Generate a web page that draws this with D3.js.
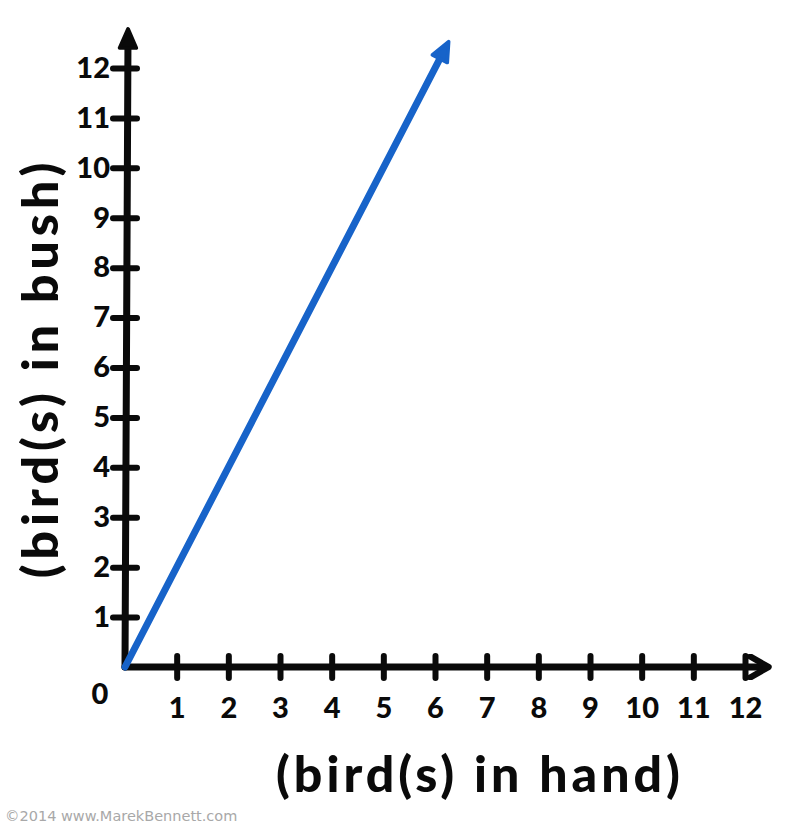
<!DOCTYPE html>
<html>
<head>
<meta charset="utf-8">
<script src="https://cdn.jsdelivr.net/npm/d3@7"></script>
<style>
  body { margin: 0; background: #fff; }
  text { font-family: "Lato", "Noto Sans", sans-serif; font-weight: 900; }
</style>
</head>
<body>
<script>
// chart values
var xTicks = [1, 2, 3, 4, 5, 6, 7, 8, 9, 10, 11, 12];
var yTicks = [1, 2, 3, 4, 5, 6, 7, 8, 9, 10, 11, 12];
var handBirds = [0, 6.2];
var bushBirds = [0, 12.4];
var xTitle = "(bird(s) in hand)";
var yTitle = "(bird(s) in bush)";
var credit = "\u00a92014 www.MarekBennett.com";

var width = 800, height = 827;

var svg = d3.select("body").append("svg")
    .attr("width", width)
    .attr("height", height);

// scales: origin at about (125, 667)
var x = d3.scaleLinear().domain([0, 12]).range([125, 745]);
var y = d3.scaleLinear().domain([0, 12]).range([667, 68]);

var ink = "#0a0a0a";
var blue = "#1763c9";

// arrow markers
var defs = svg.append("defs");
defs.append("marker")
    .attr("id", "openArrow")
    .attr("viewBox", "0 0 10 10")
    .attr("refX", 7).attr("refY", 5)
    .attr("markerUnits", "userSpaceOnUse")
    .attr("markerWidth", 26).attr("markerHeight", 26)
    .attr("orient", "auto")
  .append("path")
    .attr("d", "M1,1 L8,5 L1,9")
    .attr("fill", "none")
    .attr("stroke", ink)
    .attr("stroke-width", 2.4)
    .attr("stroke-linecap", "round")
    .attr("stroke-linejoin", "round");

function solidArrow(id, colour) {
  defs.append("marker")
      .attr("id", id)
      .attr("viewBox", "0 0 10 10")
      .attr("refX", 6).attr("refY", 5)
      .attr("markerUnits", "userSpaceOnUse")
      .attr("markerWidth", 24).attr("markerHeight", 24)
      .attr("orient", "auto")
    .append("path")
      .attr("d", "M1,1.5 L9,5 L1,8.5 Z")
      .attr("fill", colour)
      .attr("stroke", colour)
      .attr("stroke-width", 1.5)
      .attr("stroke-linejoin", "round");
}
solidArrow("blueArrow", blue);
solidArrow("blackArrow", ink);

// x axis
var gx = svg.append("g")
    .attr("transform", "translate(0," + y(0) + ")")
    .call(d3.axisBottom(x).tickValues(xTicks).tickSize(11).tickFormat(d3.format("d")));
gx.select(".domain").remove();
gx.selectAll(".tick line")
    .attr("y1", -11).attr("y2", 11)
    .attr("stroke", ink).attr("stroke-width", 6).attr("stroke-linecap", "round");
gx.selectAll(".tick text")
    .attr("y", 30).attr("dy", "0.71em")
    .attr("fill", ink)
    .style("font-size", "29px");

// y axis
var gy = svg.append("g")
    .attr("transform", "translate(" + x(0) + ",0)")
    .call(d3.axisLeft(y).tickValues(yTicks).tickSize(12).tickFormat(d3.format("d")));
gy.select(".domain").remove();
gy.selectAll(".tick line")
    .attr("x1", -12).attr("x2", 12)
    .attr("stroke", ink).attr("stroke-width", 6).attr("stroke-linecap", "round");
gy.selectAll(".tick text")
    .attr("x", -15)
    .attr("fill", ink)
    .style("font-size", "29px");

// axis lines with arrows
svg.append("line")
    .attr("x1", x(0)).attr("y1", y(0))
    .attr("x2", 766).attr("y2", y(0))
    .attr("stroke", ink).attr("stroke-width", 7).attr("stroke-linecap", "round")
    .attr("marker-end", "url(#openArrow)");

svg.append("line")
    .attr("x1", x(0)).attr("y1", y(0))
    .attr("x2", x(0) + 3).attr("y2", 36)
    .attr("stroke", ink).attr("stroke-width", 7).attr("stroke-linecap", "round")
    .attr("marker-end", "url(#blackArrow)");

// origin label
svg.append("text")
    .attr("x", 100).attr("y", 683)
    .attr("dy", "0.71em")
    .attr("text-anchor", "middle")
    .attr("fill", ink)
    .style("font-size", "29px")
    .text("0");

// the blue line
var pts = handBirds.map(function(d, i) { return [d, bushBirds[i]]; });
var line = d3.line()
    .x(function(d) { return x(d[0]); })
    .y(function(d) { return y(d[1]); });

svg.append("path")
    .datum(pts)
    .attr("fill", "none")
    .attr("stroke", blue)
    .attr("stroke-width", 7)
    .attr("stroke-linecap", "round")
    .attr("d", line)
    .attr("marker-end", "url(#blueArrow)");

// axis titles
svg.append("text")
    .attr("x", 480).attr("y", 792)
    .attr("text-anchor", "middle")
    .attr("fill", ink)
    .style("font-size", "50px")
    .style("letter-spacing", "4px")
    .text(xTitle);

svg.append("text")
    .attr("transform", "translate(58,368) rotate(-90)")
    .attr("text-anchor", "middle")
    .attr("fill", ink)
    .style("font-size", "50px")
    .style("letter-spacing", "5px")
    .text(yTitle);

// credit
svg.append("text")
    .attr("x", 5).attr("y", 821)
    .attr("fill", "#a8a8a8")
    .style("font-family", "'DejaVu Sans', sans-serif")
    .style("font-weight", "normal")
    .style("font-size", "14.5px")
    .text(credit);
</script>
</body>
</html>
